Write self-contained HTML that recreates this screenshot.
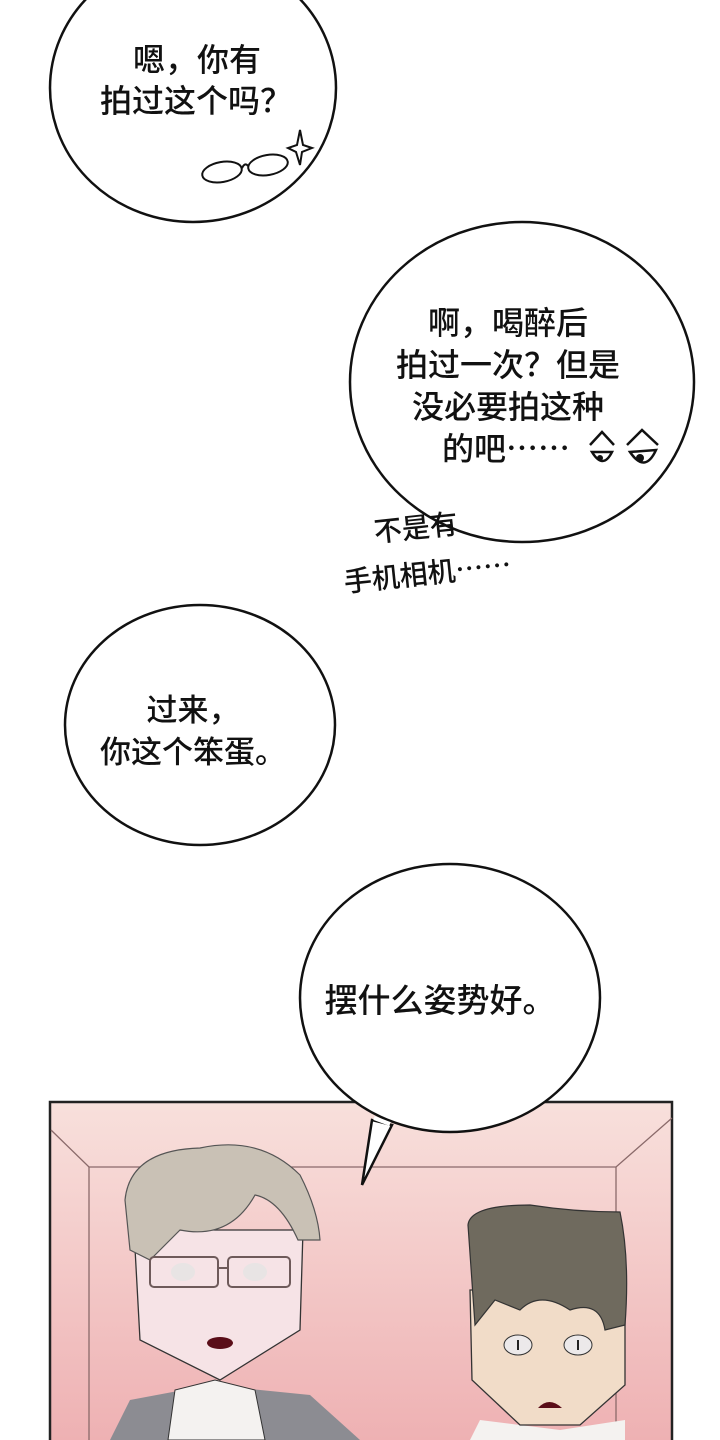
<!DOCTYPE html>
<html><head><meta charset="utf-8"><style>
html,body{margin:0;padding:0;background:#fff;}
svg{display:block;}
text{font-family:"Noto Sans CJK SC","Liberation Sans",sans-serif;font-weight:500;fill:#111;}
</style></head><body>
<svg width="720" height="1440" viewBox="0 0 720 1440" xmlns="http://www.w3.org/2000/svg">
<rect width="720" height="1440" fill="#fff"/>
<!-- bubble 1 -->
<ellipse cx="193" cy="88" rx="143" ry="134" fill="#fff" stroke="#111" stroke-width="2.5"/>
<text x="197" y="71" font-size="32" text-anchor="middle">嗯，你有</text>
<text x="196" y="112" font-size="32" text-anchor="middle">拍过这个吗？</text>
<g fill="none" stroke="#111" stroke-width="2">
<ellipse cx="222" cy="172" rx="20" ry="10" transform="rotate(-10 222 172)"/>
<ellipse cx="268" cy="165" rx="20" ry="10" transform="rotate(-10 268 165)"/>
<path d="M242 168 Q245 162 248 166"/>
<path d="M300 130 L303 145 L312 148 L302 152 L300 165 L296 152 L288 148 L297 145 Z"/>
</g>
<!-- bubble 2 -->
<ellipse cx="522" cy="382" rx="172" ry="160" fill="#fff" stroke="#111" stroke-width="2.5"/>
<text x="508" y="334" font-size="32" text-anchor="middle">啊，喝醉后</text>
<text x="508" y="376" font-size="32" text-anchor="middle">拍过一次？但是</text>
<text x="508" y="418" font-size="32" text-anchor="middle">没必要拍这种</text>
<text x="442" y="460" font-size="32">的吧……</text>
<g fill="none" stroke="#111" stroke-width="2.5">
<path d="M590 445 L602 432 L614 445"/>
<path d="M592 452 Q603 470 612 452 Z"/>
<path d="M627 445 L642 430 L658 445"/>
<path d="M630 452 Q645 474 656 450 Z"/>
</g>
<circle cx="600" cy="458" r="3" fill="#111"/><circle cx="640" cy="458" r="4" fill="#111"/>
<text x="375" y="542" font-size="28" font-weight="700" transform="rotate(-6 375 542)">不是有</text>
<text x="345" y="592" font-size="28" font-weight="700" transform="rotate(-6 345 592)">手机相机……</text>
<!-- bubble 3 -->
<ellipse cx="200" cy="725" rx="135" ry="120" fill="#fff" stroke="#111" stroke-width="2.5"/>
<text x="193" y="721" font-size="31" text-anchor="middle">过来，</text>
<text x="193" y="763" font-size="31" text-anchor="middle">你这个笨蛋。</text>
<!-- panel -->
<defs>
<linearGradient id="pg" x1="0" y1="0" x2="0" y2="1">
<stop offset="0" stop-color="#f8e0dc"/><stop offset="1" stop-color="#eeb0b2"/>
</linearGradient>
</defs>
<rect x="50" y="1102" width="622" height="345" fill="url(#pg)" stroke="#222" stroke-width="2.5"/>
<g stroke="#8a6a6a" stroke-width="1.3" fill="none">
<path d="M51 1130 L89 1167 L616 1167 L672 1118"/>
<path d="M89 1167 L89 1440"/><path d="M616 1167 L616 1440"/>
</g>
<!-- left man -->
<path d="M110 1440 L130 1400 L210 1385 L310 1395 L360 1440 Z" fill="#8c8c92"/>
<path d="M168 1440 L175 1390 L215 1380 L255 1390 L265 1440 Z" fill="#f4f2f0" stroke="#333" stroke-width="1"/>
<path d="M134 1230 L140 1340 L220 1380 L300 1330 L303 1230 Z" fill="#f6e3e6" stroke="#333" stroke-width="1.3"/>
<path d="M125 1200 Q130 1150 200 1148 Q260 1135 300 1175 Q318 1210 320 1240 L298 1240 Q280 1200 255 1195 Q230 1240 180 1230 L150 1260 L130 1250 Z" fill="#c9c1b5" stroke="#555" stroke-width="1.2"/>
<g fill="none" stroke="#6e5a5a" stroke-width="2">
<rect x="150" y="1257" width="68" height="30" rx="4"/>
<rect x="228" y="1257" width="62" height="30" rx="4"/>
<path d="M218 1268 L228 1268"/>
</g>
<ellipse cx="183" cy="1272" rx="12" ry="9" fill="#e8e4e4"/>
<ellipse cx="255" cy="1272" rx="12" ry="9" fill="#e8e4e4"/>
<ellipse cx="220" cy="1343" rx="13" ry="6" fill="#5a0d18"/>
<!-- right man -->
<path d="M470 1440 L480 1420 L560 1430 L625 1420 L625 1440 Z" fill="#f4f2f0"/>
<path d="M470 1290 L472 1380 L520 1425 L580 1425 L625 1385 L625 1290 Z" fill="#f1dcc8" stroke="#333" stroke-width="1.3"/>
<path d="M468 1225 Q470 1205 530 1205 Q575 1212 620 1212 Q630 1260 625 1325 L605 1330 Q600 1300 570 1310 Q540 1290 520 1310 L495 1300 L475 1325 Z" fill="#6f6a5e" stroke="#333" stroke-width="1.2"/>
<ellipse cx="518" cy="1345" rx="14" ry="10" fill="#ece9ea" stroke="#333" stroke-width="1"/>
<ellipse cx="578" cy="1345" rx="14" ry="10" fill="#ece9ea" stroke="#333" stroke-width="1"/>
<path d="M518 1340 L518 1350 M578 1340 L578 1350" stroke="#222" stroke-width="2"/>
<path d="M538 1408 Q549 1396 562 1408 Z" fill="#5a0d18"/>
<!-- bubble 4 -->
<path d="M372 1120 L362 1185 L392 1125 Z" fill="#fff" stroke="#111" stroke-width="2.5" stroke-linejoin="miter"/>
<ellipse cx="450" cy="998" rx="150" ry="134" fill="#fff" stroke="#111" stroke-width="2.5"/>
<path d="M374 1118 L390 1124" stroke="#fff" stroke-width="4"/>
<text x="440" y="1012" font-size="33" text-anchor="middle">摆什么姿势好。</text>
</svg>
</body></html>
